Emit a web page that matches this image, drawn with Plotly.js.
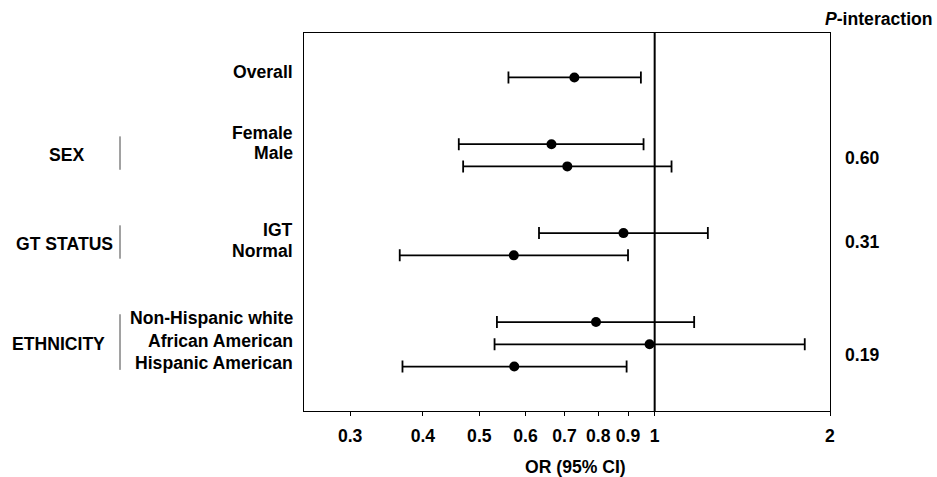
<!DOCTYPE html>
<html>
<head>
<meta charset="utf-8">
<script src="https://cdn.plot.ly/plotly-3.0.1.min.js"></script>
<style>html,body{margin:0;padding:0;background:#fff;}#chart{width:937px;height:477px;}</style>
</head>
<body>
<div id="chart"></div>
<script>
// ---- data ----
const categories = ['Overall', 'Female', 'Male', 'IGT', 'Normal', 'Non-Hispanic white', 'African American', 'Hispanic American'];
const groupOf = ['', 'SEX', 'SEX', 'GT STATUS', 'GT STATUS', 'ETHNICITY', 'ETHNICITY', 'ETHNICITY'];
const groups = ['SEX', 'GT STATUS', 'ETHNICITY'];
const pInteraction = ['0.60', '0.31', '0.19'];
const orValues = [0.728, 0.665, 0.708, 0.884, 0.573, 0.793, 0.980, 0.574];
const ciLow    = [0.561, 0.461, 0.469, 0.633, 0.365, 0.536, 0.531, 0.369];
const ciHigh   = [0.947, 0.957, 1.069, 1.234, 0.900, 1.169, 1.810, 0.895];
const xTickVals = [0.3, 0.4, 0.5, 0.6, 0.7, 0.8, 0.9, 1, 2];
const xTickText = ['0.3', '0.4', '0.5', '0.6', '0.7', '0.8', '0.9', '1', '2'];
const xAxisTitle = 'OR (95% CI)';
const pHeader = '<i>P</i>-interaction';

// ---- styles ----
const FONT = 'Liberation Sans, Arial, sans-serif';
const FS = 17.6;
const labelShift = [5, 11, 13, 3, 4, 4, 3.5, 3.5];
const pShift = [-3, 2, -11];
const groupCenterPx = [66, 64, 58];

// row positions: consecutive rows within a group, gap between groups
const rowPos = [];
let pos = 0;
categories.forEach((c, i) => {
  if (i > 0) pos += (groupOf[i] === groupOf[i - 1]) ? 1 : 3;
  rowPos.push(pos);
});

const trace = {
  type: 'scatter', mode: 'markers',
  x: orValues, y: rowPos,
  marker: {color: '#000', size: 10},
  error_x: {
    type: 'data', symmetric: false,
    array: ciHigh.map((h, i) => h - orValues[i]),
    arrayminus: ciLow.map((l, i) => orValues[i] - l),
    color: '#000', thickness: 1.8, width: 6
  },
  hoverinfo: 'skip', showlegend: false, cliponaxis: false
};

const boldFont = {family: FONT, size: FS, color: '#000', weight: 700};
const annotations = [];
categories.forEach((c, i) => {
  annotations.push({
    text: c, xref: 'paper', yref: 'y', x: 0, y: rowPos[i],
    xanchor: 'right', yanchor: 'middle', xshift: -9, yshift: labelShift[i],
    showarrow: false, font: boldFont
  });
});

const shapes = [{
  type: 'line', xref: 'x', yref: 'paper', x0: 1, x1: 1, y0: 0, y1: 1,
  line: {color: '#000', width: 2}
}];

groups.forEach((g, k) => {
  const ys = rowPos.filter((p, i) => groupOf[i] === g);
  const mid = (ys[0] + ys[ys.length - 1]) / 2;
  annotations.push({
    text: g, xref: 'paper', yref: 'y', x: (groupCenterPx[k] - 304) / 526, y: mid,
    xanchor: 'center', yanchor: 'middle', showarrow: false, font: boldFont
  });
  annotations.push({
    text: pInteraction[k], xref: 'paper', yref: 'y', x: (862 - 304) / 526, y: mid,
    xanchor: 'center', yanchor: 'middle', yshift: pShift[k], showarrow: false, font: boldFont
  });
  shapes.push({
    type: 'line', xref: 'paper', yref: 'y',
    x0: (120 - 304) / 526, x1: (120 - 304) / 526,
    y0: ys[0] - 0.35, y1: ys[ys.length - 1] + 0.15,
    line: {color: '#444', width: 1}
  });
});

annotations.push({
  text: pHeader, xref: 'paper', yref: 'paper', x: (935 - 304) / 526, y: (411 - 19) / 378,
  xanchor: 'right', yanchor: 'middle', showarrow: false, font: boldFont
});
annotations.push({
  text: xAxisTitle, xref: 'paper', yref: 'paper', x: (575 - 304) / 526, y: (411 - 467) / 378,
  xanchor: 'center', yanchor: 'middle', showarrow: false, font: boldFont
});

const layout = {
  width: 937, height: 477,
  margin: {l: 304, r: 107, t: 33, b: 66},
  paper_bgcolor: '#fff', plot_bgcolor: '#fff',
  showlegend: false,
  xaxis: {
    type: 'log', range: [Math.log10(0.25), Math.log10(2)],
    tickmode: 'array', tickvals: xTickVals, ticktext: xTickText,
    ticks: 'outside', ticklen: 4, tickwidth: 1, tickcolor: '#000',
    showline: true, mirror: true, linecolor: '#000', linewidth: 1.2,
    showgrid: false, zeroline: false, ticklabelstandoff: 5,
    tickfont: boldFont
  },
  yaxis: {
    range: [15, -2], showticklabels: false, ticks: '',
    showline: true, mirror: true, linecolor: '#000', linewidth: 1.2,
    showgrid: false, zeroline: false
  },
  annotations: annotations,
  shapes: shapes
};

Plotly.newPlot('chart', [trace], layout, {displayModeBar: false, staticPlot: true});
</script>
</body>
</html>
